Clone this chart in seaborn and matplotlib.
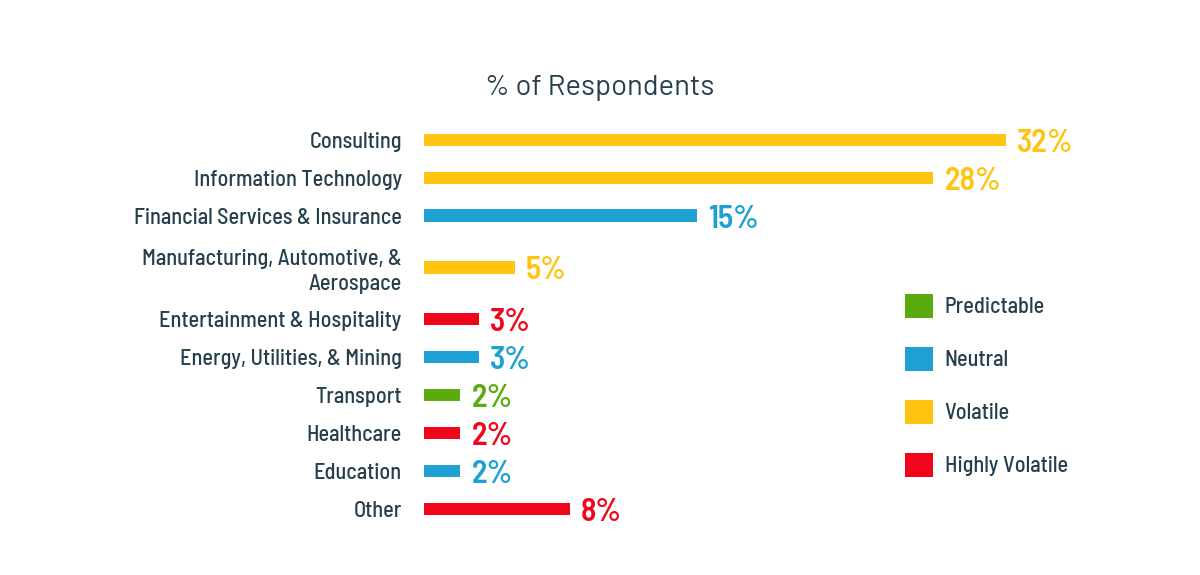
import matplotlib
matplotlib.use("Agg")
import matplotlib.pyplot as plt
from matplotlib.patches import Patch
from matplotlib import font_manager
import seaborn as sns
import pandas as pd

industries = [
    "Consulting",
    "Information Technology",
    "Financial Services & Insurance",
    "Manufacturing, Automotive, &\nAerospace",
    "Entertainment & Hospitality",
    "Energy, Utilities, & Mining",
    "Transport",
    "Healthcare",
    "Education",
    "Other",
]
percents = [32, 28, 15, 5, 3, 3, 2, 2, 2, 8]
volatility = ["Volatile", "Volatile", "Neutral", "Volatile", "Highly Volatile",
              "Neutral", "Predictable", "Highly Volatile", "Neutral", "Highly Volatile"]
legend_order = ["Predictable", "Neutral", "Volatile", "Highly Volatile"]
palette = {"Predictable": "#5aab0e", "Neutral": "#1ea0d2",
           "Volatile": "#fec40f", "Highly Volatile": "#f0051a"}
title = "% of Respondents"

TEXT = "#263f4c"

installed = {f.name for f in font_manager.fontManager.ttflist}

def pick(*names):
    for n in names:
        if n in installed:
            return n
    return "DejaVu Sans"

LABEL_FONT = pick("Barlow Semi Condensed", "Roboto Condensed")
NUM_FONT = pick("Barlow Semi Condensed", "Roboto Condensed")
TITLE_FONT = pick("Barlow", "Barlow Semi Condensed", "Roboto")

sns.set_theme(style="white")
plt.rcParams["font.family"] = [LABEL_FONT, "DejaVu Sans"]

# row positions: extra room for two-line labels
pos = []
y = 0.0
prev_lines = 1
for i, lab in enumerate(industries):
    lines = lab.count("\n") + 1
    if i > 0:
        y += 1.0 + 0.37 * ((lines - 1) + (prev_lines - 1))
    pos.append(y)
    prev_lines = lines

df = pd.DataFrame({"industry": industries, "pct": percents,
                   "vol": volatility, "ypos": pos})

fig = plt.figure(figsize=(12, 5.75), dpi=100)
ax = fig.add_axes([424/1200, 1-531.6/575, (1079-424)/1200, (531.6-117)/575])

sns.barplot(data=df, x="pct", y="ypos", hue="vol", palette=palette,
            orient="h", native_scale=True, width=0.32, legend=False,
            dodge=False, saturation=1, ax=ax, linewidth=0)

ax.set_xlim(0, 36)
ax.set_ylim(pos[-1] + 0.6, -0.6)
ax.set_yticks(pos)
ax.set_yticklabels(industries, fontsize=16, color=TEXT, fontweight=500,
                   multialignment="right", linespacing=1.3,
                   family=[LABEL_FONT, "DejaVu Sans"])
ax.tick_params(axis="y", length=0, pad=16)
ax.set_xticks([])
ax.set_xlabel("")
ax.set_ylabel("")
for s in ax.spines.values():
    s.set_visible(False)

for p, v, c in zip(pos, percents, volatility):
    ax.annotate(f"{v}%", xy=(v, p), xytext=(8, -2.5), textcoords="offset points",
                va="center", ha="left", fontsize=23, fontweight=600,
                color=palette[c], family=[NUM_FONT, "DejaVu Sans"])

fig.text(0.5, 1-88/575, title, ha="center", va="center", fontsize=21,
         color=TEXT, fontweight=400, family=[TITLE_FONT, "DejaVu Sans"])

handles = [Patch(facecolor=palette[k], edgecolor="none", label=k) for k in legend_order]
leg = fig.legend(handles=handles, loc="upper left",
                 bbox_to_anchor=(905/1200, 1-294/575), frameon=False,
                 prop={"size": 16, "weight": 500, "family": [LABEL_FONT, "DejaVu Sans"]},
                 handlelength=1.25, handleheight=1.25,
                 labelspacing=1.33, handletextpad=0.54, borderpad=0,
                 borderaxespad=0)
for t in leg.get_texts():
    t.set_color(TEXT)

fig.savefig("out.png", dpi=100, facecolor="white")
